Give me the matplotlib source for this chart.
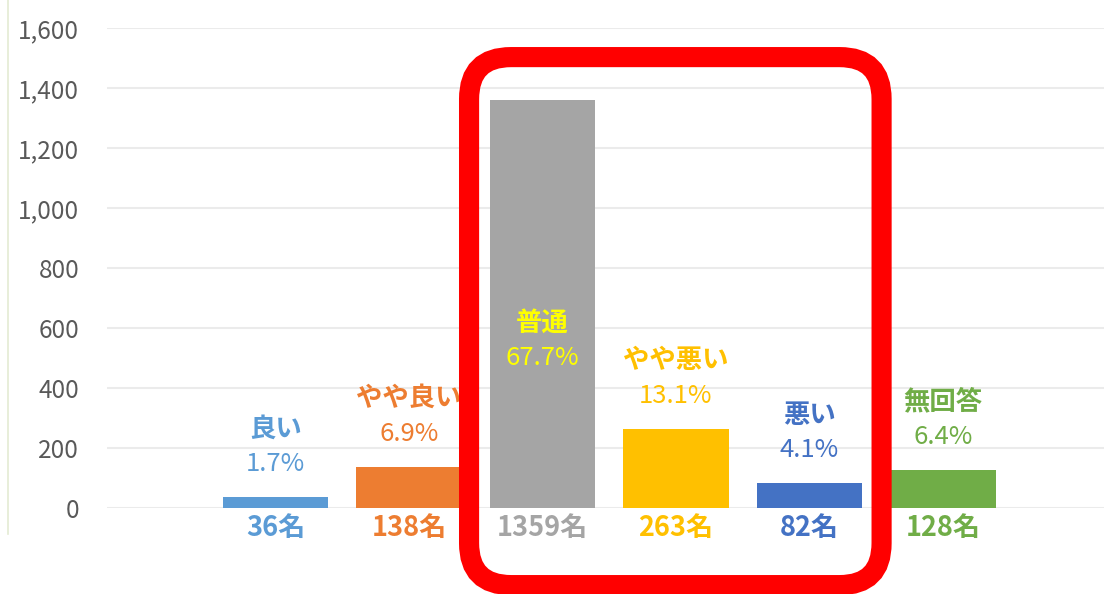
import matplotlib
matplotlib.use("Agg")
import matplotlib.pyplot as plt
from matplotlib.patches import FancyBboxPatch
from matplotlib.lines import Line2D

plt.rcParams['font.family'] = ['Noto Sans CJK JP', 'DejaVu Sans']

# 回答の集計
categories = ["良い", "やや良い", "普通", "やや悪い", "悪い", "無回答"]
counts = [36, 138, 1359, 263, 82, 128]
percents = ["1.7%", "6.9%", "67.7%", "13.1%", "4.1%", "6.4%"]
bar_colors = ["#5B9BD5", "#ED7D31", "#A5A5A5", "#FFC000", "#4472C4", "#70AD47"]
label_colors = ["#5B9BD5", "#ED7D31", "#FFFF00", "#FFC000", "#4472C4", "#70AD47"]
count_colors = ["#5B9BD5", "#ED7D31", "#A5A5A5", "#FFC000", "#4472C4", "#70AD47"]
yticks = [0, 200, 400, 600, 800, 1000, 1200, 1400, 1600]

fig = plt.figure(figsize=(11.04, 5.94), dpi=100)
ax = fig.add_axes([107 / 1104, 86 / 594, 997 / 1104, 480 / 594])

x = list(range(len(categories)))
ax.bar(x, counts, width=0.79, color=bar_colors, zorder=2)

ax.set_xlim(-1.262, 6.206)
ax.set_ylim(0, 1600)
ax.set_yticks(yticks)
ax.set_yticklabels([f"{v:,}" for v in yticks], fontsize=17.5, color="#595959")
ax.set_xticks([])
ax.tick_params(axis="y", length=0, pad=20)
ax.grid(axis="y", color="#EBEBEB", linewidth=1.5, zorder=0)
for s in ax.spines.values():
    s.set_visible(False)

# ラベル
for i, (c, p, v) in enumerate(zip(categories, percents, counts)):
    if i == 2:
        ypct = 500
    else:
        ypct = v + 110
    ax.text(i, ypct + 117, c, ha="center", va="center", fontsize=19,
            fontweight="bold", color=label_colors[i], zorder=3)
    ax.text(i, ypct, p, ha="center", va="center", fontsize=18.5,
            color=label_colors[i], zorder=3)
    ax.text(i, -67, f"{v}名", ha="center", va="center", fontsize=19.5,
            fontweight="bold", color=count_colors[i], clip_on=False)

# 赤枠 (普通〜悪い を囲む)
(x0, y0) = ax.transData.transform((1.45, -257))
(x1, y1) = ax.transData.transform((4.54, 1503))
box = FancyBboxPatch((x0, y0), x1 - x0, y1 - y0,
                     boxstyle="round,pad=0,rounding_size=42",
                     transform=None, fill=False, edgecolor="#FF0000",
                     linewidth=14.5, zorder=4)
fig.add_artist(box)

fig.add_artist(Line2D([7.5 / 1104, 7.5 / 1104], [1, 60 / 594],
                      color="#E4EBD3", linewidth=1.2))

fig.savefig("out.png", dpi=100)
